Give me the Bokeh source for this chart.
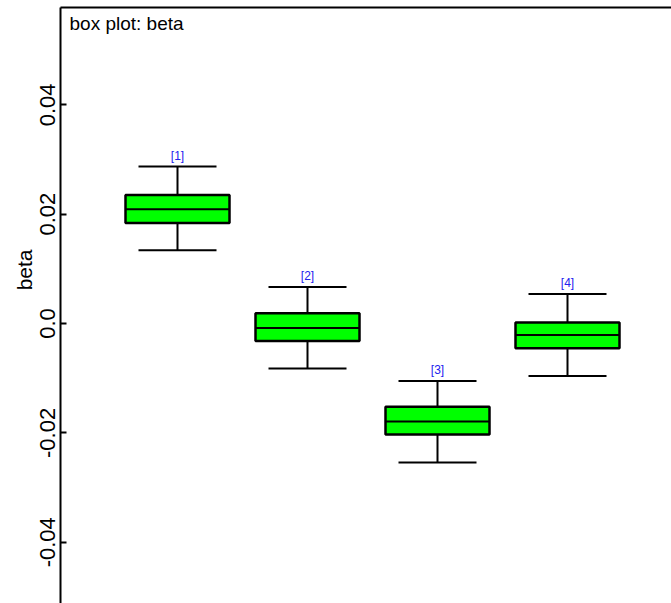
from bokeh.plotting import figure
from bokeh.models import Range1d, FixedTicker, LinearAxis, Label, Title, ColumnDataSource
from bokeh.core.properties import value
from bokeh.embed import file_html
from bokeh.resources import INLINE

# Posterior summaries for beta[1..4]
labels = ["[1]", "[2]", "[3]", "[4]"]
positions = [1, 2, 3, 4]
whisker_low = [0.0134, -0.0082, -0.0254, -0.0096]
box_low = [0.0184, -0.0032, -0.0203, -0.0045]
median = [0.0209, -0.0008, -0.0179, -0.0021]
box_high = [0.0235, 0.0019, -0.0152, 0.0002]
whisker_high = [0.0287, 0.0067, -0.0105, 0.0054]

tick_values = [-0.04, -0.02, 0.0, 0.02, 0.04]
tick_labels = ["-0.04", "-0.02", "0.0", "0.02", "0.04"]

BOX_W = 0.8
CAP_W = 0.6

src = ColumnDataSource(dict(
    pos=positions,
    left=[p - BOX_W / 2 for p in positions],
    right=[p + BOX_W / 2 for p in positions],
    cap_l=[p - CAP_W / 2 for p in positions],
    cap_r=[p + CAP_W / 2 for p in positions],
    wlo=whisker_low, blo=box_low, med=median, bhi=box_high, whi=whisker_high,
    lab=labels,
))

p = figure(width=671, height=603, output_backend="svg", toolbar_location=None,
           x_range=Range1d(0.1, 4.8), y_range=Range1d(-0.0512, 0.0578),
           min_border_left=60, min_border_right=0, min_border_top=7,
           min_border_bottom=0, outline_line_color=None,
           x_axis_location=None)
p.grid.visible = False
p.background_fill_color = "white"
p.border_fill_color = "white"

# left axis: inward ticks, vertical labels
ax = p.yaxis[0]
ax.ticker = FixedTicker(ticks=tick_values)
ax.major_label_overrides = {v: s for v, s in zip(tick_values, tick_labels)}
ax.major_label_orientation = "vertical"
ax.major_label_text_font = "Liberation Sans"
ax.major_label_text_font_size = "22px"
ax.major_label_text_color = "black"
ax.major_label_standoff = 5
ax.major_tick_in = 6
ax.major_tick_out = 0
ax.major_tick_line_width = 2
ax.minor_tick_line_color = None
ax.axis_line_width = 2

# axis title on the left, aligned to the top end and pushed down
p.add_layout(Title(text="beta", align="right", offset=242, standoff=4,
                   text_font="Liberation Sans", text_font_size="21px",
                   text_font_style="normal", text_color="black"), "left")

# top frame line
top = LinearAxis(major_tick_in=0, major_tick_out=0, minor_tick_line_color=None,
                 major_label_text_font_size="0px", major_label_standoff=0,
                 axis_line_width=2, ticker=FixedTicker(ticks=[]))
p.add_layout(top, "above")

# whiskers and caps
p.segment(x0="pos", y0="bhi", x1="pos", y1="whi", source=src, line_color="black", line_width=2)
p.segment(x0="pos", y0="wlo", x1="pos", y1="blo", source=src, line_color="black", line_width=2)
p.segment(x0="cap_l", y0="whi", x1="cap_r", y1="whi", source=src, line_color="black", line_width=2)
p.segment(x0="cap_l", y0="wlo", x1="cap_r", y1="wlo", source=src, line_color="black", line_width=2)

# boxes
p.quad(left="left", right="right", bottom="blo", top="bhi", source=src,
       fill_color="#00ff00", line_color="black", line_width=2.5)
p.segment(x0="left", y0="med", x1="right", y1="med", source=src, line_color="black", line_width=2)

# index labels above the upper whiskers
p.text(x="pos", y="whi", text="lab", source=src, text_align="center",
       text_baseline="bottom", y_offset=-4, text_color="#2222ee",
       text_font=value("Liberation Sans"), text_font_size="12px")

# title drawn inside the top-left corner of the frame
p.add_layout(Label(x=p.x_range.start, y=p.y_range.end, x_offset=9, y_offset=-5,
                   text="box plot: beta", text_font="Liberation Sans",
                   text_font_size="19px", text_color="black",
                   text_baseline="top", text_align="left"))

open("out.html", "w").write(file_html(p, INLINE))
